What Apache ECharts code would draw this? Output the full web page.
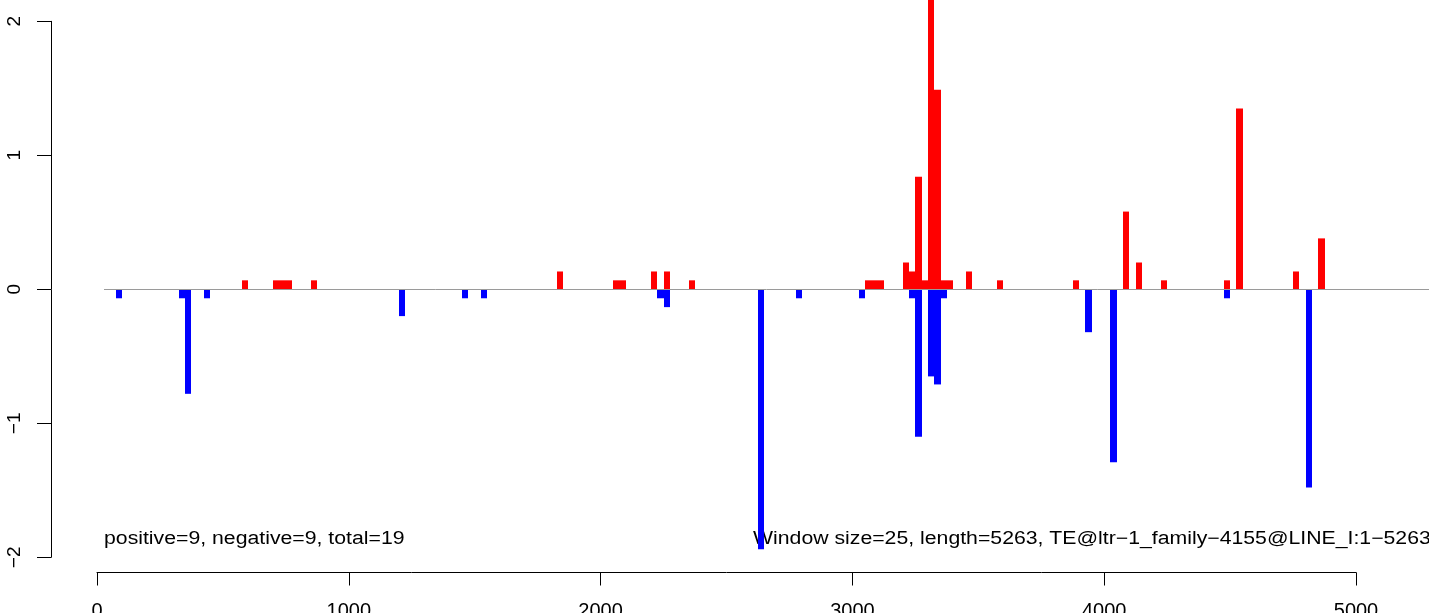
<!DOCTYPE html>
<html>
<head>
<meta charset="utf-8">
<script src="https://cdn.jsdelivr.net/npm/echarts@6/dist/echarts.min.js"></script>
<style>
html,body{margin:0;padding:0;background:#fff;}
#chart{width:1429px;height:613px;}
</style>
</head>
<body>
<div id="chart"></div>
<script>
// ---- data ----
const WINDOW = 25;
const posStarts = [575, 700, 725, 750, 850, 1825, 2050, 2075, 2200, 2250, 2350, 3050, 3075, 3100, 3200, 3225, 3250, 3275, 3300, 3325, 3350, 3375, 3450, 3575, 3875, 4075, 4125, 4225, 4475, 4525, 4750, 4850];
const posValues = [0.067, 0.067, 0.067, 0.067, 0.067, 0.133, 0.067, 0.067, 0.133, 0.133, 0.067, 0.067, 0.067, 0.067, 0.2, 0.133, 0.84, 0.067, 2.4, 1.49, 0.067, 0.067, 0.133, 0.067, 0.067, 0.58, 0.2, 0.067, 0.067, 1.35, 0.133, 0.38];
const negStarts = [75, 325, 350, 425, 1200, 1450, 1525, 2225, 2250, 2625, 2775, 3025, 3225, 3250, 3300, 3325, 3350, 3925, 4025, 4475, 4800];
const negValues = [-0.067, -0.067, -0.78, -0.067, -0.2, -0.067, -0.067, -0.067, -0.133, -1.94, -0.067, -0.067, -0.067, -1.1, -0.65, -0.71, -0.067, -0.32, -1.29, -0.067, -1.48];
const xTicks = [0, 1000, 2000, 3000, 4000, 5000];
const yTicks = [-2, -1, 0, 1, 2];
const leftNote = 'positive=9, negative=9, total=19';
const rightNote = 'Window size=25, length=5263, TE@ltr\u22121_family\u22124155@LINE_I:1\u22125263';

const FONT = '"Liberation Sans", Arial, Helvetica, sans-serif';
const chart = echarts.init(document.getElementById('chart'), null, {renderer: 'canvas'});

function barRenderer(color) {
  return function (params, api) {
    const s = api.value(0), v = api.value(1);
    const p0 = api.coord([s, 0]);
    const p1 = api.coord([s + WINDOW, v]);
    const x0 = Math.round(p0[0]), x1 = Math.round(p1[0]);
    const y0 = Math.min(p0[1], p1[1]), y1 = Math.max(p0[1], p1[1]);
    return {type: 'rect', shape: {x: x0, y: y0, width: x1 - x0, height: y1 - y0}, style: {fill: color}};
  };
}

const pxPerUnit = 1259 / 5000;
const option = {
  animation: false,
  backgroundColor: '#fff',
  grid: [
    {left: 104, right: 0, top: 21.3, height: 536, containLabel: false, outerBoundsMode: 'none'},
    {left: 97, width: 1259, top: 500, height: 72.5, containLabel: false, outerBoundsMode: 'none'}
  ],
  xAxis: [
    {type: 'value', gridIndex: 0, min: (104 - 97) / pxPerUnit, max: (1429 - 97) / pxPerUnit, show: false},
    {type: 'value', gridIndex: 1, min: xTicks[0], max: xTicks[xTicks.length - 1], interval: 1000, position: 'bottom',
     axisLine: {show: true, onZero: false, lineStyle: {color: '#000', width: 1}},
     axisTick: {show: true, length: 13, lineStyle: {color: '#000', width: 1}},
     axisLabel: {show: true, margin: 29, color: '#000', fontSize: 20, fontFamily: FONT,
                 formatter: v => String(v)},
     splitLine: {show: false}}
  ],
  yAxis: [
    {type: 'value', gridIndex: 0, min: yTicks[0], max: yTicks[yTicks.length - 1], interval: 1, position: 'left', offset: 53,
     axisLine: {show: true, onZero: false, lineStyle: {color: '#000', width: 1}},
     axisTick: {show: true, length: 14, lineStyle: {color: '#000', width: 1}},
     axisLabel: {show: true, rotate: 90, margin: 27, color: '#000', fontSize: 19, fontFamily: FONT,
                 formatter: v => (v < 0 ? '\u2212' + Math.abs(v) : String(v))},
     splitLine: {show: false}},
    {type: 'value', gridIndex: 1, show: false, min: 0, max: 1}
  ],
  series: [
    {type: 'custom', xAxisIndex: 0, yAxisIndex: 0, clip: false, silent: true,
     data: posStarts.map((s, i) => [s, posValues[i]]), encode: {x: 0, y: 1},
     renderItem: barRenderer('#ff0000'),
     markLine: {silent: true, symbol: ['none', 'none'], label: {show: false},
                lineStyle: {color: '#9a9a9a', width: 1, type: 'solid'}, data: [{yAxis: 0}]}},
    {type: 'custom', xAxisIndex: 0, yAxisIndex: 0, clip: false, silent: true,
     data: negStarts.map((s, i) => [s, negValues[i]]), encode: {x: 0, y: 1},
     renderItem: barRenderer('#0000ff')}
  ],
  graphic: [
    {type: 'text', x: 104, y: 539, scaleX: 1.18, silent: true,
     style: {text: leftNote, font: '18px ' + FONT, fill: '#000', align: 'left', verticalAlign: 'middle'}},
    {type: 'text', x: 753, y: 539, scaleX: 1.18, silent: true,
     style: {text: rightNote, font: '18px ' + FONT, fill: '#000', align: 'left', verticalAlign: 'middle'}}
  ]
};
chart.setOption(option);
</script>
</body>
</html>
